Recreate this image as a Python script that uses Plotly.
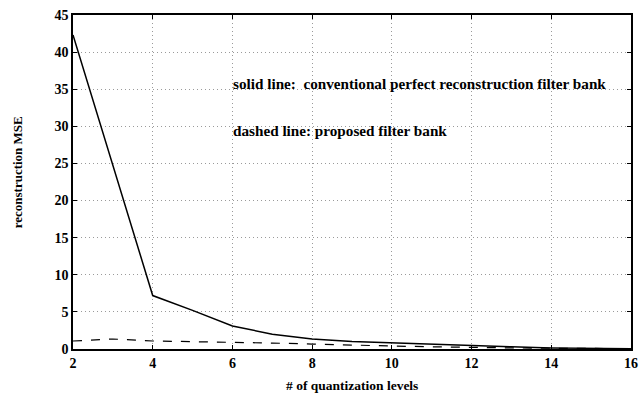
import plotly.graph_objects as go

levels = [2, 3, 4, 5, 6, 7, 8, 9, 10, 11, 12, 13, 14, 15, 16]
mse_conventional = [42.3, 24.7, 7.2, 5.2, 3.1, 2.0, 1.35, 1.0, 0.8, 0.6, 0.4, 0.3, 0.15, 0.1, 0.05]
mse_proposed = [1.08, 1.35, 1.08, 1.0, 0.95, 0.8, 0.67, 0.5, 0.4, 0.3, 0.2, 0.15, 0.1, 0.07, 0.05]

x_ticks = [2, 4, 6, 8, 10, 12, 14, 16]
y_ticks = [0, 5, 10, 15, 20, 25, 30, 35, 40, 45]

font_family = "Liberation Serif, Times New Roman, serif"

fig = go.Figure()
fig.add_trace(go.Scatter(x=levels, y=mse_conventional, mode="lines",
                         line=dict(color="black", width=1.5), showlegend=False))
fig.add_trace(go.Scatter(x=levels, y=mse_proposed, mode="lines",
                         line=dict(color="black", width=1.2, dash="dash"), showlegend=False))

fig.add_annotation(x=6, y=35.8, xref="x", yref="y", xanchor="left", yanchor="middle",
                   text="<b>solid line:  conventional perfect reconstruction filter bank</b>",
                   showarrow=False, borderpad=0,
                   font=dict(family=font_family, size=15.2, color="black"))
fig.add_annotation(x=6, y=29.5, xref="x", yref="y", xanchor="left", yanchor="middle",
                   text="<b>dashed line: proposed filter bank</b>",
                   showarrow=False, borderpad=0,
                   font=dict(family=font_family, size=15.2, color="black"))

# axis titles
fig.add_annotation(x=0.5, y=-0.108, xref="paper", yref="paper", xanchor="center", yanchor="middle",
                   text="<b># of quantization levels</b>", showarrow=False, borderpad=0,
                   font=dict(family=font_family, size=13.5, color="black"))
fig.add_annotation(x=-0.098, y=0.53, xref="paper", yref="paper", xanchor="center", yanchor="middle",
                   text="<b>reconstruction MSE</b>", showarrow=False, textangle=-90,
                   font=dict(family=font_family, size=13, color="black"))

axis_common = dict(showline=True, linecolor="black", linewidth=1.5, mirror="ticks",
                   ticks="inside", ticklen=4, tickcolor="black",
                   showgrid=True, gridcolor="#9a9a9a", griddash="1px,3px", gridwidth=1,
                   zeroline=False, automargin=False,
                   tickfont=dict(family=font_family, size=14, color="black"))

fig.update_xaxes(range=[2, 16], tickvals=x_ticks,
                 ticktext=["<b>%d</b>" % v for v in x_ticks], **axis_common)
fig.update_yaxes(range=[0, 45], tickvals=y_ticks,
                 ticktext=["<b>%d</b>" % v for v in y_ticks], **axis_common)

fig.update_layout(width=639, height=394, paper_bgcolor="white", plot_bgcolor="white",
                  margin=dict(l=73, r=8, t=15, b=45),
                  font=dict(family=font_family, color="black"))

fig.write_html("out.html", config={"displayModeBar": False},
               post_script="document.body.style.margin='0';document.body.style.overflow='hidden';")
